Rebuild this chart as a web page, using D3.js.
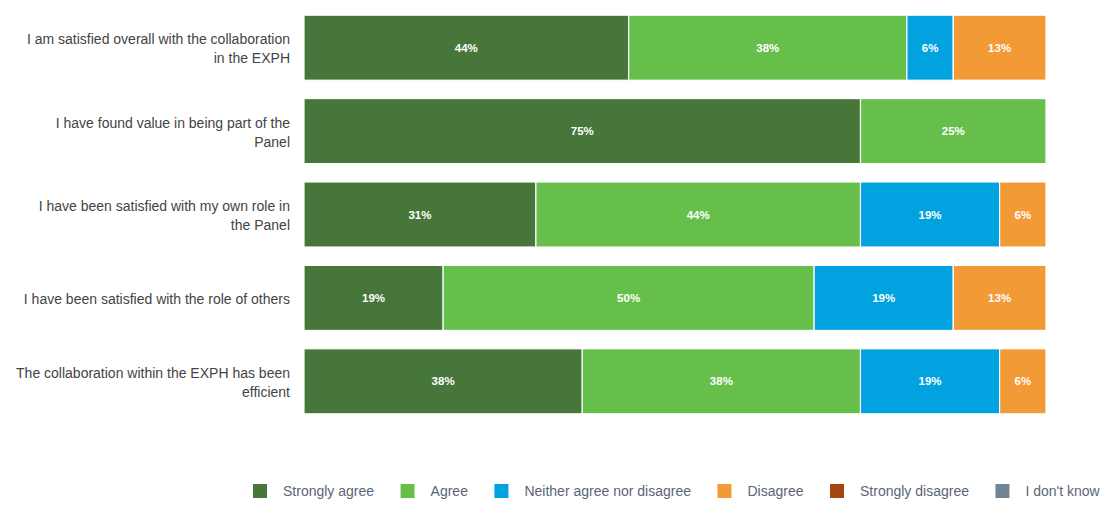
<!DOCTYPE html>
<html>
<head>
<meta charset="utf-8">
<script src="https://cdn.jsdelivr.net/npm/d3@7"></script>
<style>
  body { margin: 0; background: #fff; }
  svg { display: block; font-family: "Liberation Sans", Arial, sans-serif; }
</style>
</head>
<body>
<div id="chart"></div>
<script>
const width = 1104, height = 509;

// data: share of respondents per answer (16 respondents)
const categories = [
  "I am satisfied overall with the collaboration in the EXPH",
  "I have found value in being part of the Panel",
  "I have been satisfied with my own role in the Panel",
  "I have been satisfied with the role of others",
  "The collaboration within the EXPH has been efficient"
];
// the category labels as they are broken in the picture
const categoryLines = [
  ["I am satisfied overall with the collaboration", "in the EXPH"],
  ["I have found value in being part of the", "Panel"],
  ["I have been satisfied with my own role in", "the Panel"],
  ["I have been satisfied with the role of others"],
  ["The collaboration within the EXPH has been", "efficient"]
];
const answers = ["Strongly agree", "Agree", "Neither agree nor disagree", "Disagree", "Strongly disagree", "I don't know"];
const stronglyAgree = [43.75, 75, 31.25, 18.75, 37.5];
const agree         = [37.5, 25, 43.75, 50, 37.5];
const neither       = [6.25, 0, 18.75, 18.75, 18.75];
const disagree      = [12.5, 0, 6.25, 12.5, 6.25];
const stronglyDis   = [0, 0, 0, 0, 0];
const dontKnow      = [0, 0, 0, 0, 0];
const colors = ["#46763a", "#67bf4b", "#00a2e0", "#f29a36", "#a3460f", "#728393"];

const series = [stronglyAgree, agree, neither, disagree, stronglyDis, dontKnow];
const rows = categories.map((c, i) => {
  let o = {cat: c};
  answers.forEach((a, j) => o[a] = series[j][i]);
  return o;
});
const stacked = d3.stack().keys(answers)(rows);

const margin = {left: 304, right: 58, top: 6, bottom: 86};

const svg = d3.select('#chart').append('svg')
    .attr('width', width).attr('height', height);

const x = d3.scaleLinear().domain([0, 100]).range([margin.left, width - margin.right]);
const y = d3.scaleBand().domain(categories)
    .range([margin.top, height - margin.bottom])
    .paddingInner(0.22).paddingOuter(0.11);
const color = d3.scaleOrdinal().domain(answers).range(colors);

const groups = svg.append('g').selectAll('g')
    .data(stacked)
    .enter().append('g')
    .attr('fill', d => color(d.key));

groups.selectAll('rect')
    .data(d => d.filter(p => p[1] - p[0] > 0))
    .enter().append('rect')
    .attr('x', d => x(d[0]))
    .attr('y', d => y(d.data.cat))
    .attr('width', d => x(d[1]) - x(d[0]))
    .attr('height', y.bandwidth())
    .attr('stroke', '#fff')
    .attr('stroke-width', 1.2);

groups.selectAll('text')
    .data(d => d.filter(p => p[1] - p[0] > 0))
    .enter().append('text')
    .attr('x', d => (x(d[0]) + x(d[1])) / 2)
    .attr('y', d => y(d.data.cat) + y.bandwidth() / 2)
    .attr('dy', '0.35em')
    .attr('text-anchor', 'middle')
    .attr('fill', '#fff')
    .style('font-size', '11.5px')
    .style('font-weight', 'bold')
    .text(d => Math.round(d[1] - d[0]) + '%');

// category labels
const labelX = 290, lineH = 19;
svg.append('g').selectAll('text')
    .data(categories)
    .enter().append('text')
    .attr('text-anchor', 'end')
    .attr('fill', '#444')
    .style('font-size', '14px')
    .each(function(d, i) {
      const lines = categoryLines[i];
      const cy = y(d) + y.bandwidth() / 2 - (lines.length - 1) * lineH / 2 + 1;
      lines.forEach((l, k) => {
        d3.select(this).append('tspan')
          .attr('x', labelX).attr('y', cy + k * lineH).attr('dy', '0.35em').text(l);
      });
    });

// legend
const legend = svg.append('g').attr('transform', 'translate(253, 491)');
let lx = 0;
answers.forEach(a => {
  const item = legend.append('g').attr('transform', 'translate(' + lx + ',0)');
  item.append('rect').attr('x', 0).attr('y', -7).attr('width', 14).attr('height', 14).attr('fill', color(a));
  const txt = item.append('text').attr('x', 30).attr('dy', '0.35em')
      .attr('fill', '#5b6577').style('font-size', '14px').text(a);
  lx += 30 + txt.node().getComputedTextLength() + 26.5;
});
</script>
</body>
</html>
